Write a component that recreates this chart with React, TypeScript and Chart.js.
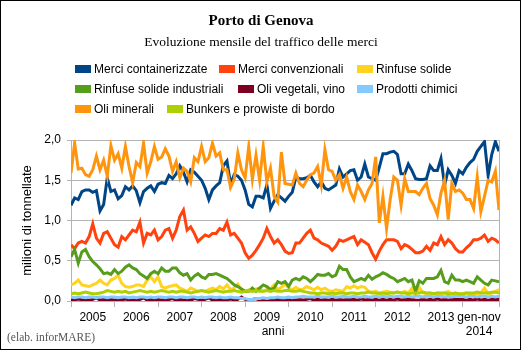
import React, { useEffect, useRef } from 'react';
import { Chart, registerables } from 'chart.js';

Chart.register(...registerables);

const TITLE = 'Porto di Genova';
const SUBTITLE = 'Evoluzione mensile del traffico delle merci';
const Y_TITLE = 'milioni di tonnellate';
const X_TITLE = 'anni';
const SOURCE = '(elab. inforMARE)';

const SERIES_NAMES = [
  'Merci containerizzate',
  'Merci convenzionali',
  'Rinfuse solide',
  'Rinfuse solide industriali',
  'Oli vegetali, vino',
  'Prodotti chimici',
  'Oli minerali',
  'Bunkers e prowiste di bordo',
];
const COLORS = ['#004586', '#ff420e', '#ffd320', '#579d1c', '#7e0021', '#83caff', '#ff950e', '#aecf00'];

// monthly values, Jan 2005 .. Nov 2014 (119 months)
const containerizzate = [
  1.19, 1.28, 1.26, 1.36, 1.38, 1.38, 1.35, 1.37, 1.12, 1.20, 1.53, 1.36,
  1.38, 1.27, 1.31, 1.42, 1.38, 1.43, 1.37, 1.22, 1.36, 1.40, 1.43, 1.36,
  1.45, 1.47, 1.46, 1.56, 1.52, 1.58, 1.68, 1.60, 1.48, 1.63, 1.60, 1.55,
  1.50, 1.40, 1.26, 1.38, 1.43, 1.47, 1.68, 1.74, 1.45, 1.57, 1.55, 1.50,
  1.38, 1.20, 1.17, 1.30, 1.30, 1.28, 1.44, 1.15, 1.24, 1.32, 1.28, 1.24,
  1.30, 1.35, 1.54, 1.52, 1.52, 1.53, 1.56, 1.48, 1.42, 1.48, 1.40, 1.38,
  1.41, 1.44, 1.64, 1.54, 1.58, 1.62, 1.63, 1.50, 1.54, 1.70, 1.54, 1.52,
  1.50, 1.66, 1.83, 1.83, 1.85, 1.86, 1.82, 1.58, 1.58, 1.70, 1.62, 1.52,
  1.51, 1.51, 1.52, 1.68, 1.62, 1.62, 1.77, 1.44, 1.63, 1.56, 1.46, 1.62,
  1.58, 1.66, 1.72, 1.76, 1.86, 1.92, 1.98, 1.56, 1.82, 1.98, 1.86,
];
const convenzionali = [
  0.70, 0.65, 0.72, 0.74, 0.72, 0.80, 0.96, 0.78, 0.72, 0.84, 0.86, 0.78,
  0.70, 0.67, 0.80, 0.76, 0.82, 0.88, 0.86, 0.98, 0.72, 0.84, 0.82, 0.88,
  0.76, 0.80, 0.88, 0.90, 0.78, 0.88, 1.05, 1.13, 0.88, 0.92, 0.84, 0.74,
  0.78, 0.82, 0.80, 0.84, 0.84, 0.90, 0.88, 0.98, 0.82, 0.84, 0.78, 0.72,
  0.60, 0.53, 0.57, 0.63, 0.70, 0.78, 0.90, 0.80, 0.72, 0.76, 0.70, 0.62,
  0.59, 0.60, 0.72, 0.72, 0.78, 0.84, 0.88, 0.78, 0.76, 0.72, 0.70, 0.68,
  0.63, 0.68, 0.76, 0.74, 0.76, 0.78, 0.80, 0.70, 0.76, 0.73, 0.70, 0.60,
  0.52, 0.62, 0.70, 0.76, 0.76, 0.76, 0.74, 0.65, 0.70, 0.68, 0.64, 0.60,
  0.60, 0.62, 0.68, 0.63, 0.72, 0.70, 0.80, 0.70, 0.76, 0.72, 0.65, 0.61,
  0.61, 0.66, 0.70, 0.76, 0.76, 0.78, 0.82, 0.74, 0.78, 0.76, 0.72,
];
const rinfuseSolide = [
  0.20, 0.22, 0.26, 0.20, 0.19, 0.18, 0.20, 0.22, 0.26, 0.22, 0.20, 0.26,
  0.28, 0.32, 0.22, 0.18, 0.17, 0.18, 0.20, 0.20, 0.18, 0.26, 0.30, 0.24,
  0.30, 0.18, 0.16, 0.18, 0.19, 0.20, 0.16, 0.14, 0.12, 0.16, 0.14, 0.12,
  0.13, 0.12, 0.14, 0.16, 0.14, 0.18, 0.15, 0.20, 0.14, 0.16, 0.21, 0.14,
  0.12, 0.14, 0.13, 0.15, 0.16, 0.12, 0.14, 0.15, 0.20, 0.14, 0.17, 0.21,
  0.16, 0.14, 0.17, 0.14, 0.15, 0.18, 0.16, 0.14, 0.17, 0.14, 0.16, 0.13,
  0.12, 0.14, 0.13, 0.12, 0.18, 0.16, 0.19, 0.16, 0.18, 0.17, 0.12, 0.11,
  0.12, 0.10, 0.11, 0.12, 0.11, 0.10, 0.11, 0.10, 0.12, 0.10, 0.16, 0.08,
  0.17, 0.10, 0.09, 0.10, 0.09, 0.10, 0.09, 0.10, 0.12, 0.09, 0.10, 0.08,
  0.09, 0.10, 0.09, 0.08, 0.09, 0.10, 0.16, 0.09, 0.10, 0.12, 0.14,
];
const rinfuseIndustriali = [
  0.55, 0.64, 0.47, 0.61, 0.64, 0.55, 0.49, 0.45, 0.40, 0.34, 0.35, 0.33,
  0.39, 0.34, 0.37, 0.42, 0.45, 0.41, 0.39, 0.34, 0.31, 0.28, 0.34, 0.37,
  0.34, 0.41, 0.37, 0.37, 0.41, 0.41, 0.35, 0.32, 0.34, 0.26, 0.31, 0.34,
  0.30, 0.28, 0.33, 0.33, 0.34, 0.32, 0.30, 0.28, 0.24, 0.20, 0.18, 0.15,
  0.12, 0.12, 0.16, 0.12, 0.16, 0.20, 0.18, 0.14, 0.16, 0.24, 0.22, 0.24,
  0.18, 0.26, 0.28, 0.26, 0.30, 0.28, 0.24, 0.28, 0.33, 0.32, 0.32, 0.34,
  0.30, 0.32, 0.43, 0.39, 0.39, 0.30, 0.24, 0.26, 0.28, 0.26, 0.32, 0.27,
  0.30, 0.32, 0.35, 0.33, 0.30, 0.28, 0.24, 0.26, 0.28, 0.24, 0.26, 0.12,
  0.25, 0.22, 0.28, 0.28, 0.28, 0.30, 0.38, 0.24, 0.22, 0.32, 0.26, 0.26,
  0.24, 0.26, 0.24, 0.22, 0.30, 0.26, 0.22, 0.20, 0.26, 0.25, 0.24,
];
const oliVegetali = [
  0.02, 0.01, 0.03, 0.01, 0.02, 0.01, 0.02, 0.04, 0.01, 0.02, 0.01, 0.02,
  0.01, 0.02, 0.01, 0.03, 0.01, 0.01, 0.02, 0.02, 0.04, 0.01, 0.02, 0.01,
  0.02, 0.01, 0.02, 0.02, 0.03, 0.01, 0.02, 0.01, 0.02, 0.01, 0.03, 0.02,
  0.01, 0.02, 0.04, 0.01, 0.02, 0.02, 0.02, 0.01, 0.03, 0.01, 0.02, 0.05,
  0.02, 0.01, 0.02, 0.03, 0.01, 0.02, 0.01, 0.02, 0.02, 0.02, 0.01, 0.02,
  0.01, 0.02, 0.01, 0.02, 0.01, 0.02, 0.03, 0.01, 0.02, 0.01, 0.02, 0.01,
  0.02, 0.01, 0.02, 0.01, 0.02, 0.02, 0.02, 0.01, 0.03, 0.01, 0.02, 0.01,
  0.02, 0.01, 0.02, 0.01, 0.02, 0.01, 0.03, 0.01, 0.02, 0.02, 0.02, 0.01,
  0.01, 0.02, 0.01, 0.02, 0.01, 0.03, 0.01, 0.02, 0.01, 0.02, 0.02, 0.02,
  0.02, 0.01, 0.02, 0.01, 0.03, 0.01, 0.02, 0.01, 0.02, 0.02, 0.02,
];
const prodottiChimici = [
  0.05, 0.04, 0.05, 0.05, 0.04, 0.05, 0.05, 0.04, 0.05, 0.05, 0.04, 0.05,
  0.05, 0.04, 0.05, 0.05, 0.04, 0.05, 0.04, 0.05, 0.05, 0.04, 0.05, 0.04,
  0.05, 0.05, 0.04, 0.05, 0.05, 0.04, 0.05, 0.05, 0.04, 0.05, 0.05, 0.04,
  0.05, 0.04, 0.05, 0.05, 0.04, 0.05, 0.04, 0.04, 0.05, 0.04, 0.04, 0.03,
  0.03, 0.02, 0.02, 0.03, 0.03, 0.04, 0.03, 0.04, 0.04, 0.05, 0.04, 0.04,
  0.05, 0.04, 0.05, 0.05, 0.06, 0.05, 0.05, 0.05, 0.06, 0.05, 0.05, 0.05,
  0.06, 0.05, 0.05, 0.06, 0.05, 0.05, 0.06, 0.05, 0.05, 0.06, 0.05, 0.05,
  0.06, 0.05, 0.06, 0.05, 0.06, 0.05, 0.06, 0.06, 0.05, 0.06, 0.05, 0.06,
  0.06, 0.05, 0.06, 0.06, 0.05, 0.06, 0.06, 0.05, 0.06, 0.05, 0.06, 0.06,
  0.06, 0.05, 0.06, 0.06, 0.05, 0.06, 0.06, 0.05, 0.06, 0.05, 0.06,
];
const oliMinerali = [
  1.59, 1.96, 1.64, 1.65, 1.57, 1.55, 1.63, 1.80, 1.63, 1.75, 1.55, 1.93,
  1.75, 1.83, 1.65, 1.92, 1.67, 1.47, 1.72, 1.67, 1.96, 1.59, 1.73, 1.92,
  1.76, 1.79, 1.89, 1.80, 1.61, 1.73, 1.53, 1.65, 1.61, 1.48, 1.78, 1.73,
  1.92, 1.73, 1.78, 1.96, 1.80, 1.84, 1.63, 1.63, 1.41, 1.51, 1.84, 1.63,
  1.53, 1.92, 1.51, 1.81, 1.50, 1.92, 1.48, 1.65, 1.30, 1.23, 1.85, 1.46,
  1.45, 1.44, 1.59, 1.46, 1.42, 1.50, 1.57, 1.59, 1.67, 1.44, 1.88, 1.63,
  1.61, 1.50, 1.57, 1.40, 1.54, 1.36, 1.26, 1.44, 1.36, 1.26, 1.38, 1.46,
  1.79, 0.97, 1.30, 0.90, 1.26, 1.54, 1.50, 1.19, 1.52, 1.36, 1.36, 1.36,
  1.32, 1.40, 1.46, 1.27, 1.19, 1.07, 1.34, 1.50, 1.01, 1.46, 1.36, 1.38,
  1.34, 1.26, 1.26, 1.15, 1.54, 1.11, 1.30, 1.50, 1.48, 1.61, 1.13,
];
const bunkers = [
  0.09, 0.10, 0.09, 0.10, 0.11, 0.10, 0.09, 0.09, 0.10, 0.11, 0.13, 0.12,
  0.11, 0.12, 0.11, 0.12, 0.10, 0.11, 0.12, 0.13, 0.12, 0.11, 0.12, 0.11,
  0.12, 0.13, 0.12, 0.11, 0.12, 0.11, 0.12, 0.12, 0.11, 0.10, 0.11, 0.12,
  0.13, 0.12, 0.11, 0.12, 0.13, 0.12, 0.11, 0.12, 0.12, 0.13, 0.12, 0.11,
  0.12, 0.13, 0.12, 0.13, 0.12, 0.12, 0.13, 0.12, 0.13, 0.12, 0.12, 0.13,
  0.13, 0.12, 0.12, 0.13, 0.12, 0.11, 0.10, 0.10, 0.09, 0.10, 0.10, 0.09,
  0.10, 0.09, 0.10, 0.10, 0.09, 0.10, 0.10, 0.09, 0.10, 0.10, 0.11, 0.10,
  0.10, 0.09, 0.10, 0.09, 0.10, 0.10, 0.11, 0.10, 0.10, 0.09, 0.10, 0.10,
  0.10, 0.11, 0.10, 0.10, 0.09, 0.10, 0.10, 0.10, 0.09, 0.09, 0.10, 0.09,
  0.09, 0.10, 0.10, 0.10, 0.11, 0.10, 0.10, 0.10, 0.11, 0.11, 0.10,
];

const SERIES = [containerizzate, convenzionali, rinfuseSolide, rinfuseIndustriali, oliVegetali, prodottiChimici, oliMinerali, bunkers];

// x-axis: year boundaries (month index) and year label positions
const YEAR_BOUNDARIES = [0, 12, 24, 36, 48, 60, 72, 84, 96, 108, 118];
const YEAR_LABELS: (string | string[])[] = ['2005', '2006', '2007', '2008', '2009', '2010', '2011', '2012', '2013', ['gen-nov', '2014']];
const YEAR_LABEL_POS = [6, 18, 30, 42, 54, 66, 78, 90, 102, 112.5];
const Y_TICKS = [0, 0.5, 1, 1.5, 2];

const GRID = '#b3b3b3';
const SANS = '"Liberation Sans", Arial, sans-serif';
const SERIF = '"Liberation Serif", "Times New Roman", serif';

const decorPlugin = {
  id: 'decor',
  beforeDraw(chart: any) {
    const ctx = chart.ctx;
    ctx.save();
    ctx.fillStyle = '#ffffff';
    ctx.fillRect(0, 0, chart.width, chart.height);
    ctx.restore();
  },
  afterDraw(chart: any) {
    const ctx = chart.ctx;
    ctx.save();
    ctx.fillStyle = '#000';
    ctx.textAlign = 'center';
    ctx.textBaseline = 'middle';
    ctx.font = `bold 15px ${SERIF}`;
    ctx.fillText(TITLE, 261, 21);
    ctx.font = `13.5px ${SERIF}`;
    ctx.fillText(SUBTITLE, 261, 42);

    // legend
    const rows = [[0, 1, 2], [3, 4, 5], [6, 7]];
    const rowX = [[75, 219, 357], [75, 238, 357], [75, 167]];
    const rowY = [69, 89, 109];
    ctx.font = `12px ${SANS}`;
    ctx.textAlign = 'left';
    rows.forEach((row, r) => {
      row.forEach((si, c) => {
        const x = rowX[r][c];
        const y = rowY[r];
        ctx.fillStyle = COLORS[si];
        ctx.fillRect(x, y - 4, 16, 8);
        ctx.fillStyle = '#000';
        ctx.fillText(SERIES_NAMES[si], x + 19, y + 1);
      });
    });

    // x-axis title
    ctx.textAlign = 'center';
    ctx.font = `12px ${SANS}`;
    ctx.fillText(X_TITLE, 273, 332);

    // source note
    ctx.textAlign = 'left';
    ctx.fillStyle = '#555';
    ctx.font = `11.5px ${SERIF}`;
    ctx.fillText(SOURCE, 7, 338);

    // outer frame
    ctx.strokeStyle = '#000';
    ctx.lineWidth = 1;
    ctx.strokeRect(0.5, 0.5, chart.width - 1, chart.height - 1);
    ctx.restore();
  },
};

export default function App() {
  const canvasRef = useRef<HTMLCanvasElement>(null);

  useEffect(() => {
    document.body.style.margin = '0';
    const canvas = canvasRef.current;
    if (!canvas) return;

    const datasets = SERIES.map((vals, i) => ({
      label: SERIES_NAMES[i],
      data: vals.map((v, idx) => ({ x: idx, y: v })),
      borderColor: COLORS[i],
      backgroundColor: COLORS[i],
      borderWidth: 3,
      pointRadius: 0,
      tension: 0,
      fill: false,
      order: SERIES.length - i,
    }));

    const chart = new Chart(canvas, {
      type: 'line',
      data: { datasets },
      plugins: [decorPlugin],
      options: {
        animation: false,
        responsive: false,
        devicePixelRatio: 1,
        layout: { padding: { top: 140, right: 22, bottom: 0, left: 0 } },
        plugins: {
          legend: { display: false },
          tooltip: { enabled: false },
          title: { display: false },
        },
        scales: {
          x: {
            type: 'linear',
            min: 0,
            max: 118,
            afterFit: (s: any) => { s.height = 49; },
            afterBuildTicks: (s: any) => {
              const vals = [...YEAR_BOUNDARIES, ...YEAR_LABEL_POS].sort((a, b) => a - b);
              s.ticks = vals.map((v) => ({ value: v }));
            },
            ticks: {
              autoSkip: false,
              maxRotation: 0,
              minRotation: 0,
              padding: 3,
              color: '#000',
              font: { family: SANS, size: 12 },
              callback: (v: any) => {
                const k = YEAR_LABEL_POS.indexOf(Number(v));
                return k >= 0 ? YEAR_LABELS[k] : '';
              },
            },
            grid: {
              color: (c: any) => (c.tick && c.tick.value === 118 ? GRID : 'rgba(0,0,0,0)'),
              tickColor: (c: any) => (c.tick && YEAR_BOUNDARIES.includes(c.tick.value) ? GRID : 'rgba(0,0,0,0)'),
              tickLength: 6,
              lineWidth: 1,
            },
            border: { color: GRID },
          },
          y: {
            min: 0,
            max: 2,
            afterFit: (s: any) => { s.width = 71; },
            afterBuildTicks: (s: any) => { s.ticks = Y_TICKS.map((v) => ({ value: v })); },
            ticks: {
              padding: 6,
              color: '#000',
              font: { family: SANS, size: 12 },
              callback: (v: any) => Number(v).toFixed(1).replace('.', ','),
            },
            grid: { color: GRID, tickLength: 4, lineWidth: 1 },
            border: { color: GRID },
            title: {
              display: true,
              text: Y_TITLE,
              color: '#000',
              font: { family: SANS, size: 13 },
              padding: { top: 20, bottom: 0 },
            },
          },
        },
      },
    } as any);

    return () => chart.destroy();
  }, []);

  return (
    <div style={{ width: 521, height: 350 }}>
      <canvas ref={canvasRef} width={521} height={350} style={{ display: 'block', width: 521, height: 350 }} />
    </div>
  );
}
